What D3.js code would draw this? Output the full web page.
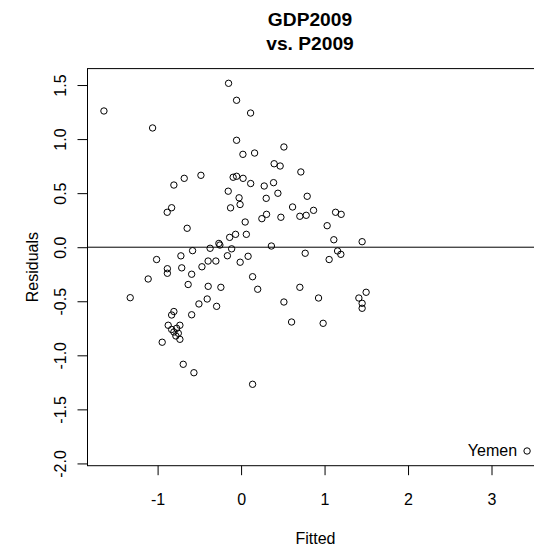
<!DOCTYPE html>
<html>
<head>
<meta charset="utf-8">
<script src="https://cdn.jsdelivr.net/npm/d3@7"></script>
<style>
    body { margin: 0; background: #fff; }
    text { font-family: Arial, "Liberation Sans", sans-serif; fill: #000; }
</style>
</head>
<body>
<div id="viz"></div>
<script>
// residuals vs fitted
const fitted = [
    -1.643, -1.060, -0.150, -0.054, 0.114, -0.054, 0.022, 0.162, 0.513, 0.396,
    0.468, 0.716, -0.805, -0.681, -0.481, -0.095, -0.054, 0.024, 0.115, 0.277,
    0.389, -0.154, -0.024, -0.012, -0.126, 0.301, 0.441, 0.792, -0.885, -0.832,
    0.617, 0.868, 0.249, 0.305, 0.477, 0.704, 0.780, 1.132, 1.199, -0.646,
    0.049, 1.031, -0.066, -0.137, 0.063, 1.111, 1.450, -0.266, -0.254, 0.363,
    -0.371, -0.113, -0.581, -0.721, -0.164, 0.084, 0.768, 1.156, 1.195, 1.055,
    -1.012, -0.395, -0.302, -0.011, -0.469, -0.883, -0.883, -0.711, -0.592, -1.113,
    0.138, 0.199, -0.634, -0.394, -0.242, 0.704, -1.328, -0.505, -0.406, -0.293,
    0.513, 0.928, 1.411, 1.498, 1.450, 1.450, -0.805, -0.832, -0.592, 0.605,
    0.983, -0.873, -0.733, -0.832, -0.772, -0.805, -0.752, -0.781, -0.733, -0.945,
    -0.693, -0.565, 0.138, 3.426
];
const residuals = [
    1.260, 1.103, 1.516, 1.359, 1.241, 0.989, 0.859, 0.871, 0.927, 0.772,
    0.751, 0.696, 0.575, 0.637, 0.665, 0.647, 0.656, 0.637, 0.589, 0.566,
    0.597, 0.518, 0.457, 0.395, 0.364, 0.452, 0.499, 0.471, 0.323, 0.365,
    0.372, 0.341, 0.264, 0.304, 0.277, 0.286, 0.295, 0.323, 0.304, 0.175,
    0.233, 0.199, 0.119, 0.091, 0.119, 0.069, 0.051, 0.035, 0.020, 0.011,
    -0.010, -0.015, -0.032, -0.080, -0.079, -0.084, -0.056, -0.035, -0.066, -0.114,
    -0.114, -0.128, -0.128, -0.139, -0.181, -0.199, -0.241, -0.191, -0.250, -0.294,
    -0.273, -0.389, -0.345, -0.362, -0.371, -0.371, -0.467, -0.525, -0.479, -0.547,
    -0.507, -0.470, -0.470, -0.417, -0.519, -0.565, -0.595, -0.627, -0.625, -0.692,
    -0.704, -0.722, -0.722, -0.761, -0.750, -0.784, -0.796, -0.821, -0.852, -0.879,
    -1.083, -1.161, -1.268, -1.885
];
// only the outlier carries a name
const pointLabels = {103: "Yemen"};
const xTicks = [-1, 0, 1, 2, 3];
const yTicks = [-2.0, -1.5, -1.0, -0.5, 0.0, 0.5, 1.0, 1.5];
const titleLines = ["GDP2009", "vs. P2009"];

const W = 534, H = 550;
const plot = {left: 87, top: 68.6, right: 544, bottom: 465.7};

const svg = d3.select("#viz").append("svg")
    .attr("width", W).attr("height", H);

// R prints a plain hyphen for negatives
const fmt = d3.formatLocale({decimal: ".", thousands: ",", grouping: [3], currency: ["", ""], minus: "-"});

// R style: pad the data range by 4% on each side
function padded(v) {
    let [lo, hi] = d3.extent(v);
    let d = (hi - lo) * 0.04;
    return [lo - d, hi + d];
}

const x = d3.scaleLinear().domain(padded(fitted)).range([plot.left, plot.right]);
const y = d3.scaleLinear().domain(padded(residuals)).range([plot.bottom, plot.top]);

const data = fitted.map((f, i) => ({f: f, r: residuals[i], label: pointLabels[i]}));

// axes
let xAxis = svg.append("g")
    .attr("transform", `translate(0,${plot.bottom})`)
    .call(d3.axisBottom(x).tickValues(xTicks).tickFormat(fmt.format("d")).tickSize(9.5).tickPadding(0));
xAxis.select(".domain").remove();
xAxis.selectAll("line").attr("stroke", "#000");
xAxis.selectAll("text")
    .attr("y", 33.5)
    .attr("dy", null)
    .attr("dominant-baseline", "central")
    .style("font-size", "16px")
    .style("font-family", "Arial, 'Liberation Sans', sans-serif")
    .attr("fill", "#000");

let yAxis = svg.append("g")
    .attr("transform", `translate(${plot.left},0)`)
    .call(d3.axisLeft(y).tickValues(yTicks).tickFormat(fmt.format(".1f")).tickSize(9.5).tickPadding(0));
yAxis.select(".domain").remove();
yAxis.selectAll("line").attr("stroke", "#000");
yAxis.selectAll("text")
    .attr("x", 0).attr("dy", null)
    .attr("text-anchor", "middle")
    .attr("dominant-baseline", "central")
    .attr("transform", "translate(-27,0) rotate(-90)")
    .style("font-size", "16px")
    .style("font-family", "Arial, 'Liberation Sans', sans-serif")
    .attr("fill", "#000");

// box round the plot region
svg.append("rect")
    .attr("x", plot.left + 0.5).attr("y", plot.top)
    .attr("width", plot.right - plot.left).attr("height", plot.bottom - plot.top)
    .attr("fill", "none").attr("stroke", "#000").attr("stroke-width", 1);

// zero reference line
svg.append("line")
    .attr("x1", plot.left).attr("x2", plot.right)
    .attr("y1", y(0)).attr("y2", y(0))
    .attr("stroke", "#000").attr("stroke-width", 1);

// points
svg.append("g").selectAll("circle")
    .data(data)
    .join("circle")
    .attr("cx", d => x(d.f))
    .attr("cy", d => y(d.r))
    .attr("r", 3.2)
    .attr("fill", "none")
    .attr("stroke", "#000")
    .attr("stroke-width", 1);

svg.append("g").selectAll("text")
    .data(data.filter(d => d.label))
    .join("text")
    .attr("x", d => x(d.f) - 10)
    .attr("y", d => y(d.r))
    .attr("text-anchor", "end")
    .attr("dominant-baseline", "central")
    .style("font-size", "16px")
    .text(d => d.label);

// titles
svg.append("g").selectAll("text")
    .data(titleLines)
    .join("text")
    .attr("x", 310)
    .attr("y", (d, i) => 19 + i * 24)
    .attr("text-anchor", "middle")
    .attr("dominant-baseline", "central")
    .style("font-size", "19.2px")
    .style("font-weight", "bold")
    .text(d => d);

svg.append("text")
    .attr("x", (plot.left + plot.right) / 2).attr("y", 538)
    .attr("text-anchor", "middle")
    .attr("dominant-baseline", "central")
    .style("font-size", "16px")
    .text("Fitted");

svg.append("text")
    .attr("transform", `translate(32,${(plot.top + plot.bottom) / 2}) rotate(-90)`)
    .attr("text-anchor", "middle")
    .attr("dominant-baseline", "central")
    .style("font-size", "16px")
    .text("Residuals");
</script>
</body>
</html>
